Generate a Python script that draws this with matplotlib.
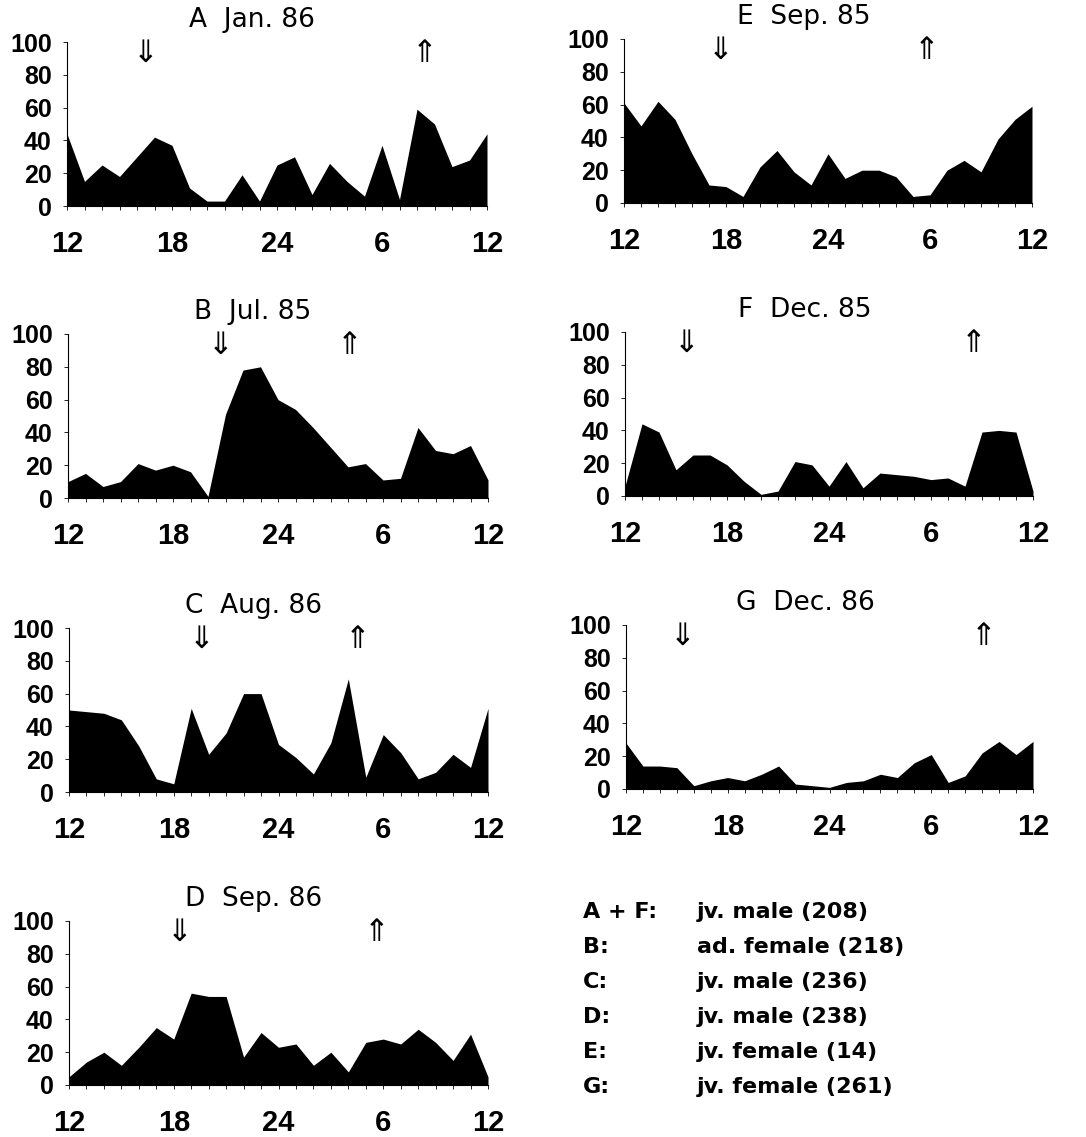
"""
plot.py
-------
Seven-panel hourly activity chart (percent active per hour, 12 to 12),
with sunset/sunrise arrows and an animal key in the bottom-right corner.
"""

import matplotlib
matplotlib.use('Agg')
import matplotlib.pyplot as plt
import numpy as np

# hours after 12:00 noon, 0..24
hours = np.arange(25)
tick_pos = [0, 6, 12, 18, 24]
tick_labels = ['12', '18', '24', '6', '12']

a_jan86 = [44, 15, 25, 18, 30, 42, 37, 11, 3, 3, 19, 3, 25, 30, 7, 26, 15, 6, 37, 4, 59, 50, 24, 28, 44]
b_jul85 = [10, 15, 7, 10, 21, 17, 20, 16, 1, 51, 78, 80, 60, 54, 43, 31, 19, 21, 11, 12, 43, 29, 27, 32, 11]
c_aug86 = [50, 49, 48, 44, 28, 8, 5, 51, 23, 36, 60, 60, 29, 21, 11, 30, 69, 9, 35, 24, 8, 12, 23, 15, 51]
d_sep86 = [5, 14, 20, 12, 23, 35, 28, 56, 54, 54, 17, 32, 23, 25, 12, 20, 8, 26, 28, 25, 34, 26, 15, 31, 5]
e_sep85 = [61, 47, 62, 51, 30, 11, 10, 4, 22, 32, 19, 11, 30, 15, 20, 20, 16, 4, 5, 20, 26, 19, 39, 51, 59]
f_dec85 = [6, 44, 39, 16, 25, 25, 19, 9, 1, 3, 21, 19, 6, 21, 5, 14, 13, 12, 10, 11, 6, 39, 40, 39, 3]
g_dec86 = [28, 14, 14, 13, 2, 5, 7, 5, 9, 14, 3, 2, 1, 4, 5, 9, 7, 16, 21, 4, 8, 22, 29, 21, 29]

# sunset (down) and sunrise (up) in hours after noon
sunset = {'A': 4.5, 'B': 8.7, 'C': 7.6, 'D': 6.3, 'E': 5.7, 'F': 3.6, 'G': 3.3}
sunrise = {'A': 20.4, 'B': 16.1, 'C': 16.5, 'D': 17.6, 'E': 17.8, 'F': 20.5, 'G': 21.1}

key_ids = ['A + F:', 'B:', 'C:', 'D:', 'E:', 'G:']
key_text = ['jv. male (208)', 'ad. female (218)', 'jv. male (236)',
            'jv. male (238)', 'jv. female (14)', 'jv. female (261)']

W, H = 1086, 1137

# (letter, title, values, left px, width px, zero-line y px)
PANELS = [
    ('A', 'A  Jan. 86', a_jan86, 67, 420, 206),
    ('B', 'B  Jul. 85', b_jul85, 68, 420, 498),
    ('C', 'C  Aug. 86', c_aug86, 69, 419, 792),
    ('D', 'D  Sep. 86', d_sep86, 69, 419, 1085),
    ('E', 'E  Sep. 85', e_sep85, 624, 408, 203),
    ('F', 'F  Dec. 85', f_dec85, 625, 408, 496),
    ('G', 'G  Dec. 86', g_dec86, 626, 407, 789),
]
AX_H = 164

fig = plt.figure(figsize=(W / 100, H / 100), dpi=100)

for letter, title, vals, left, width, y0 in PANELS:
    ax = fig.add_axes([left / W, 1 - y0 / H, width / W, AX_H / H])
    ax.fill_between(hours, vals, 0, color='black', linewidth=0)
    ax.set_xlim(0, 24)
    ax.set_ylim(0, 100)
    for s in ('top', 'right'):
        ax.spines[s].set_visible(False)
    for s in ('left', 'bottom'):
        ax.spines[s].set_linewidth(0.8)
    ax.set_xticks(tick_pos)
    ax.set_xticklabels(tick_labels, fontsize=21, fontweight='bold',
                       family='Liberation Sans')
    ax.set_xticks(hours, minor=True)
    ax.set_yticks(range(0, 101, 20))
    ax.set_yticklabels([str(v) for v in range(0, 101, 20)], fontsize=18,
                       fontweight='bold', family='Liberation Sans')
    ax.tick_params(axis='x', which='both', length=3, width=0.6, pad=14)
    ax.tick_params(axis='y', length=3, width=0.6, pad=8)
    ax.text(0.44, 1.09, title, transform=ax.transAxes, ha='center',
            va='baseline', fontsize=19, family='DejaVu Sans')
    ax.text(sunset[letter], 102, '\u21d3', ha='center', va='top',
            fontsize=22, clip_on=False)
    ax.text(sunrise[letter], 102, '\u21d1', ha='center', va='top',
            fontsize=22, clip_on=False)

for i, (k, t) in enumerate(zip(key_ids, key_text)):
    y = 1 - (912 + 35 * i) / H
    fig.text(583 / W, y, k, fontsize=16, fontweight='bold', va='center',
             family='DejaVu Sans')
    fig.text(697 / W, y, t, fontsize=16, fontweight='bold', va='center',
             family='DejaVu Sans')

fig.savefig('out.png', dpi=100)
